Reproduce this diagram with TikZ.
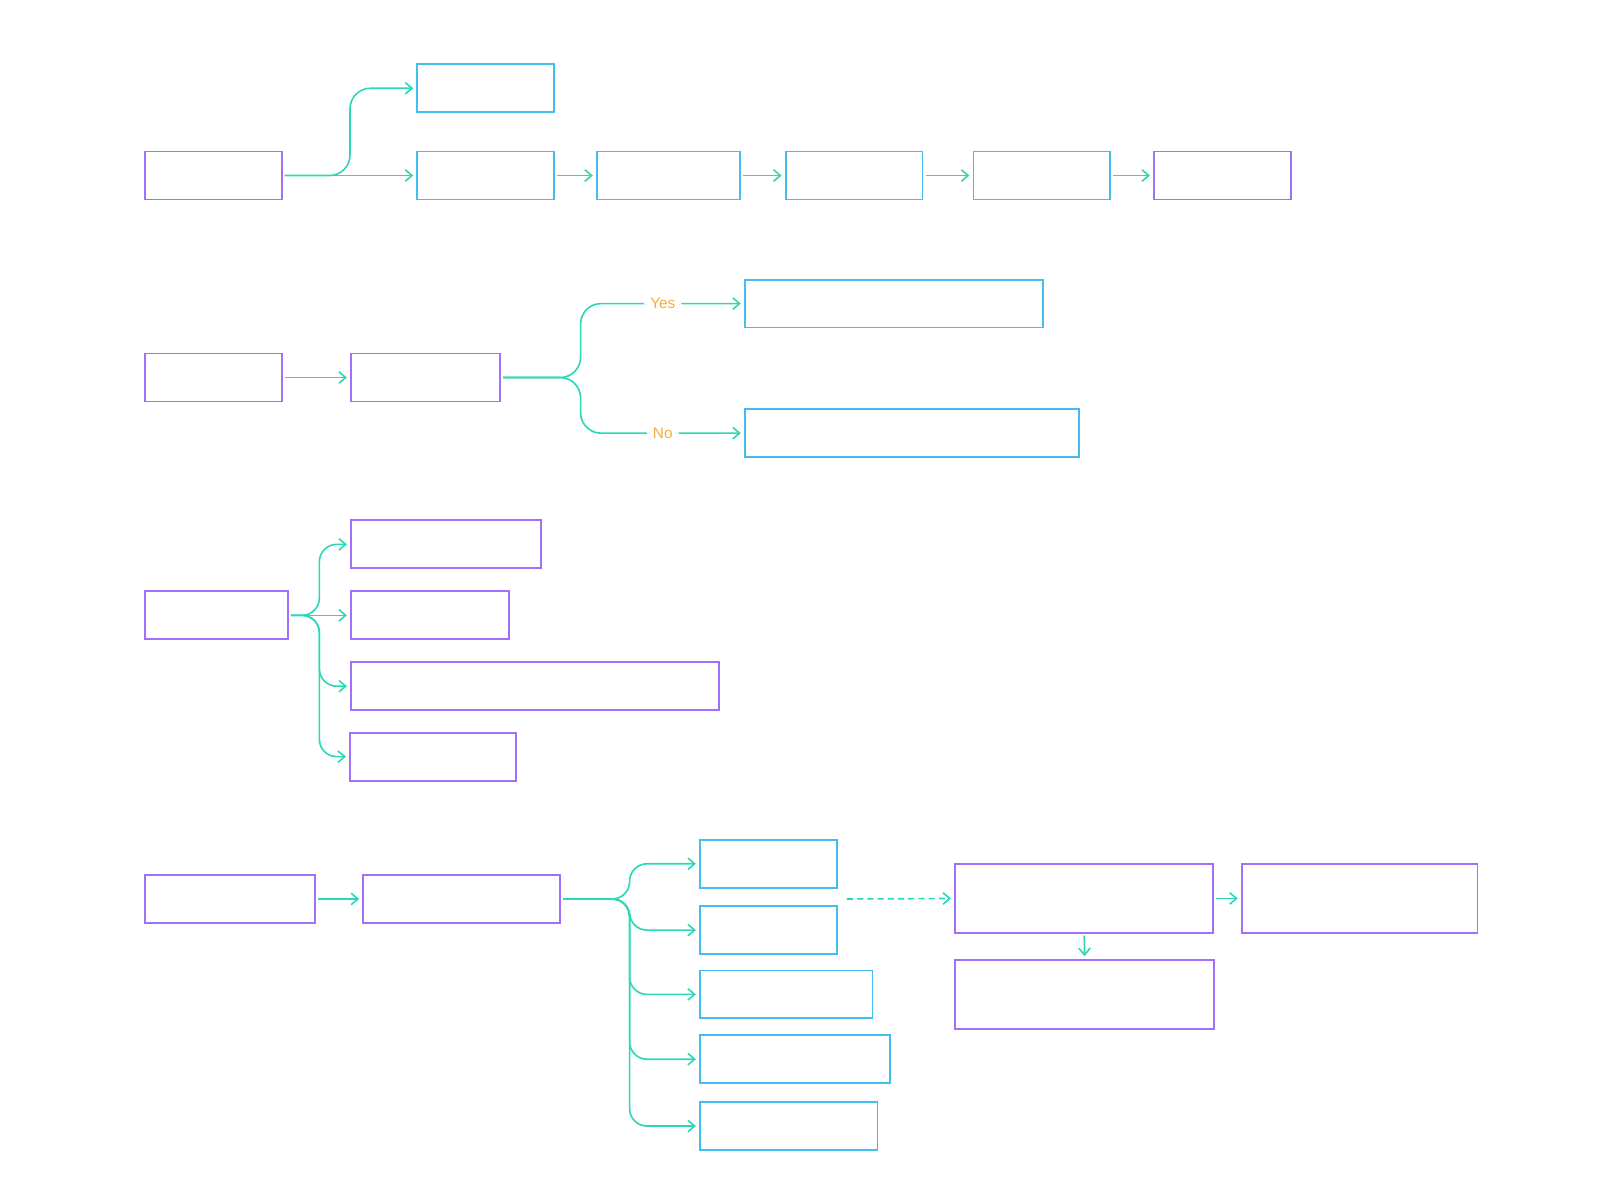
\documentclass[tikz,border=0pt]{standalone}
\usepackage{fontspec}
\setmainfont{Liberation Sans}
\usetikzlibrary{arrows.meta}
\definecolor{mypurple}{RGB}{160, 112, 248}
\definecolor{myblue}{RGB}{64, 190, 240}
\definecolor{mygreen}{RGB}{44, 216, 182}
\definecolor{myorange}{RGB}{246, 172, 60}
\tikzset{>={Straight Barb[length=3.3pt, width=5.6pt]}}
\tikzset{pbox/.style = {draw = mypurple, line width = 0.9pt, inner sep = 0, outer sep = 0, minimum height = 23.5pt},
  bbox/.style = {pbox, draw = myblue},
  flow/.style = {->, mygreen, line width = 0.8pt, shorten <= 1.5pt, shorten >= 2pt},
  branch/.style = {flow, rounded corners = 10pt},
  yesno/.style = {fill = white, text = myorange, font = \fontsize{7.5}{9}\selectfont, inner sep = 3pt}}
\begin{document}
\begin{tikzpicture}[x = 0.5pt, y = -0.5pt]
\useasboundingbox (0, 0) rectangle (1568, 1173);
\node[pbox, minimum width = 67pt] (r1a) at (209, 172) {};
\node[bbox, minimum width = 67pt] (r1b) at (476, 86.5) {};
\node[bbox, minimum width = 67pt] (r1c) at (476, 172) {};
\node[bbox, minimum width = 70pt] (r1d) at (655, 172) {};
\node[bbox, minimum width = 67pt] (r1e) at (837, 172) {};
\node[bbox, minimum width = 67pt] (r1f) at (1021, 172) {};
\node[pbox, minimum width = 67pt] (r1g) at (1198, 172) {};
\coordinate (j1) at (343, 172);
\draw[branch] (r1a.east) -| (j1 |- r1b.west) -- (r1b.west);
\draw[flow] (r1a.east) -- (r1c.west);
\draw[flow] (r1c.east) -- (r1d.west);
\draw[flow] (r1d.east) -- (r1e.west);
\draw[flow] (r1e.east) -- (r1f.west);
\draw[flow] (r1f.east) -- (r1g.west);
\node[pbox, minimum width = 67pt] (r2a) at (209, 370) {};
\node[pbox, minimum width = 73pt] (r2b) at (417, 370) {};
\node[bbox, minimum width = 146pt] (r2c) at (876, 297.5) {};
\node[bbox, minimum width = 163.5pt] (r2d) at (893.5, 424.5) {};
\coordinate (j2) at (569, 370);
\draw[flow] (r2a.east) -- (r2b.west);
\draw[branch] (r2b.east) -| (j2 |- r2c.west) -- node[yesno] (yes) {Yes} (r2c.west);
\draw[branch] (r2b.east) -| (j2 |- r2d.west) -- node[yesno] (no) {No} (r2d.west);
\node[pbox, minimum width = 70pt] (r3a) at (212, 603) {};
\node[pbox, minimum width = 93pt] (r3b) at (437, 533.5) {};
\node[pbox, minimum width = 77.5pt] (r3c) at (421.5, 603) {};
\node[pbox, minimum width = 180.5pt] (r3d) at (524.5, 672.5) {};
\node[pbox, minimum width = 81.5pt] (r3e) at (424.5, 741.5) {};
\coordinate (j3) at (313, 603);
\draw[flow] (r3a.east) -- (r3c.west);
\foreach \n in {r3b, r3d, r3e}
  \draw[branch, rounded corners = 8.5pt] (r3a.east) -| (j3 |- \n.west) -- (\n.west);
\node[pbox, minimum width = 83.5pt] (r4a) at (225.5, 881) {};
\node[pbox, minimum width = 96.5pt] (r4b) at (452.5, 881) {};
\node[bbox, minimum width = 67pt] (r4c) at (753, 846.5) {};
\node[bbox, minimum width = 67pt] (r4d) at (753, 911.5) {};
\node[bbox, minimum width = 84.5pt] (r4e) at (770.5, 974.5) {};
\node[bbox, minimum width = 93pt] (r4f) at (779, 1038) {};
\node[bbox, minimum width = 87pt] (r4g) at (773, 1103.5) {};
\node[pbox, minimum width = 126.5pt, minimum height = 33.5pt] (r4h) at (1062.5, 880.5) {};
\node[pbox, minimum width = 115.5pt, minimum height = 33.5pt] (r4i) at (1332.5, 880.5) {};
\node[pbox, minimum width = 127pt, minimum height = 33.5pt] (r4j) at (1063, 974.5) {};
\coordinate (j4) at (617, 881);
\coordinate (d4) at (827, 881);
\draw[flow] (r4a.east) -- (r4b.west);
\foreach \n in {r4c, r4d, r4e, r4f, r4g}
  \draw[branch, rounded corners = 8.5pt] (r4b.east) -| (j4 |- \n.west) -- (\n.west);
\draw[flow, dash pattern = on 3pt off 2pt] (d4) -- (r4h.west);
\draw[flow] (r4h.east) -- (r4i.west);
\draw[flow] (r4h.south) -- (r4j.north);
\end{tikzpicture}
\end{document}
